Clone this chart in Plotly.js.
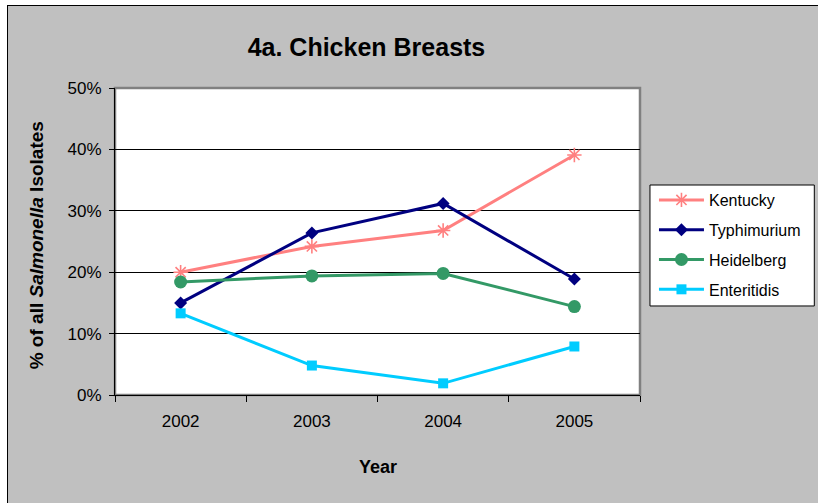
<!DOCTYPE html>
<html>
<head>
<meta charset="utf-8">
<script src="https://cdn.plot.ly/plotly-3.0.1.min.js"></script>
<style>
  html, body { margin: 0; padding: 0; background: #ffffff; overflow: hidden; }
  #frame {
    position: absolute; left: 7px; top: 5px; width: 900px; height: 600px;
    background: #c0c0c0; border: 1px solid #000000;
  }
  #chart { position: absolute; left: 0; top: 0; width: 818px; height: 503px; }
</style>
</head>
<body>
<div id="frame"></div>
<div id="chart"></div>
<script>
// Share of all Salmonella isolates from chicken breasts, by serotype and year
const years = ['2002', '2003', '2004', '2005'];
const kentucky    = [0.200, 0.242, 0.268, 0.391];
const typhimurium = [0.150, 0.264, 0.312, 0.189];
const heidelberg  = [0.184, 0.194, 0.198, 0.144];
const enteritidis = [0.133, 0.048, 0.019, 0.079];

const FONT = 'Liberation Sans, Arial, Helvetica, sans-serif';

function series(name, values, color, marker, group) {
  return {
    type: 'scatter', mode: 'lines+markers', name: name,
    x: years, y: values, legendgroup: group,
    line: { color: color, width: 3 },
    marker: marker,
    hoverinfo: 'skip'
  };
}

const traces = [
  series('Kentucky', kentucky, '#ff8080',
    { symbol: 'asterisk-open', size: 12, color: '#ff8080', line: { color: '#ff8080', width: 1.6 } }, 'g1'),
  series('Typhimurium', typhimurium, '#000080',
    { symbol: 'diamond', size: 10, color: '#000080' }, 'g2'),
  series('Heidelberg', heidelberg, '#339966',
    { symbol: 'circle', size: 13, color: '#339966' }, 'g3'),
  series('Enteritidis', enteritidis, '#00ccff',
    { symbol: 'square', size: 10, color: '#00ccff' }, 'g4')
];

const layout = {
  width: 818, height: 503,
  margin: { l: 115, r: 176, t: 88, b: 108, pad: 0 },
  paper_bgcolor: 'rgba(0,0,0,0)',
  plot_bgcolor: '#ffffff',
  font: { family: FONT, color: '#000000', size: 17 },
  showlegend: true,
  title: {
    text: '4a. Chicken Breasts',
    font: { family: FONT, size: 25, weight: 'bold', color: '#000000' },
    x: 0.448, xref: 'container', xanchor: 'center',
    y: 0.9066, yref: 'container', yanchor: 'middle'
  },
  xaxis: {
    type: 'category', range: [-0.5, 3.5],
    showgrid: false, zeroline: false,
    showline: true, linecolor: '#000000', linewidth: 1,
    ticks: 'outside', tickson: 'boundaries', ticklen: 6, tickcolor: '#000000',
    ticklabelstandoff: 11,
    tickfont: { family: FONT, size: 17, color: '#000000' },
    fixedrange: true
  },
  yaxis: {
    range: [0, 0.5], dtick: 0.1, tick0: 0, tickformat: '.0%',
    showgrid: true, gridcolor: '#000000', gridwidth: 1,
    zeroline: false,
    showline: true, linecolor: '#000000', linewidth: 1,
    ticks: 'outside', ticklen: 5, tickcolor: '#000000',
    ticklabelstandoff: 4,
    tickfont: { family: FONT, size: 17, color: '#000000' },
    fixedrange: true
  },
  legend: {
    x: 1.0266, xanchor: 'left', y: 0.6905, yanchor: 'top',
    bgcolor: 'rgba(0,0,0,0)', borderwidth: 0,
    font: { family: FONT, size: 16, color: '#000000' },
    tracegroupgap: 6, itemwidth: 45,
    traceorder: 'grouped'
  },
  shapes: [
    // grey plot-area frame (left and bottom are covered by the black axis lines)
    { type: 'rect', xref: 'paper', yref: 'paper', x0: 0, x1: 1, y0: 0, y1: 1,
      line: { color: '#808080', width: 2.5 }, fillcolor: 'rgba(0,0,0,0)', layer: 'below' },
    // legend box
    { type: 'rect', xref: 'paper', yref: 'paper', x0: 1.019, x1: 1.332, y0: 0.290, y1: 0.684,
      line: { color: '#000000', width: 1 }, fillcolor: '#ffffff', layer: 'above' }
  ],
  annotations: [
    { text: '<b>Year</b>', xref: 'paper', yref: 'paper', x: 0.5, y: -0.2345,
      xanchor: 'center', yanchor: 'middle', showarrow: false,
      font: { family: FONT, size: 18, color: '#000000' } },
    { text: '<b>% of all <i>Salmonella</i> Isolates</b>', xref: 'paper', yref: 'paper',
      x: -0.148, y: 0.4886, xanchor: 'center', yanchor: 'middle', textangle: -90,
      showarrow: false, font: { family: FONT, size: 19, color: '#000000' } }
  ]
};

Plotly.newPlot('chart', traces, layout, { displayModeBar: false, staticPlot: true });
</script>
</body>
</html>
